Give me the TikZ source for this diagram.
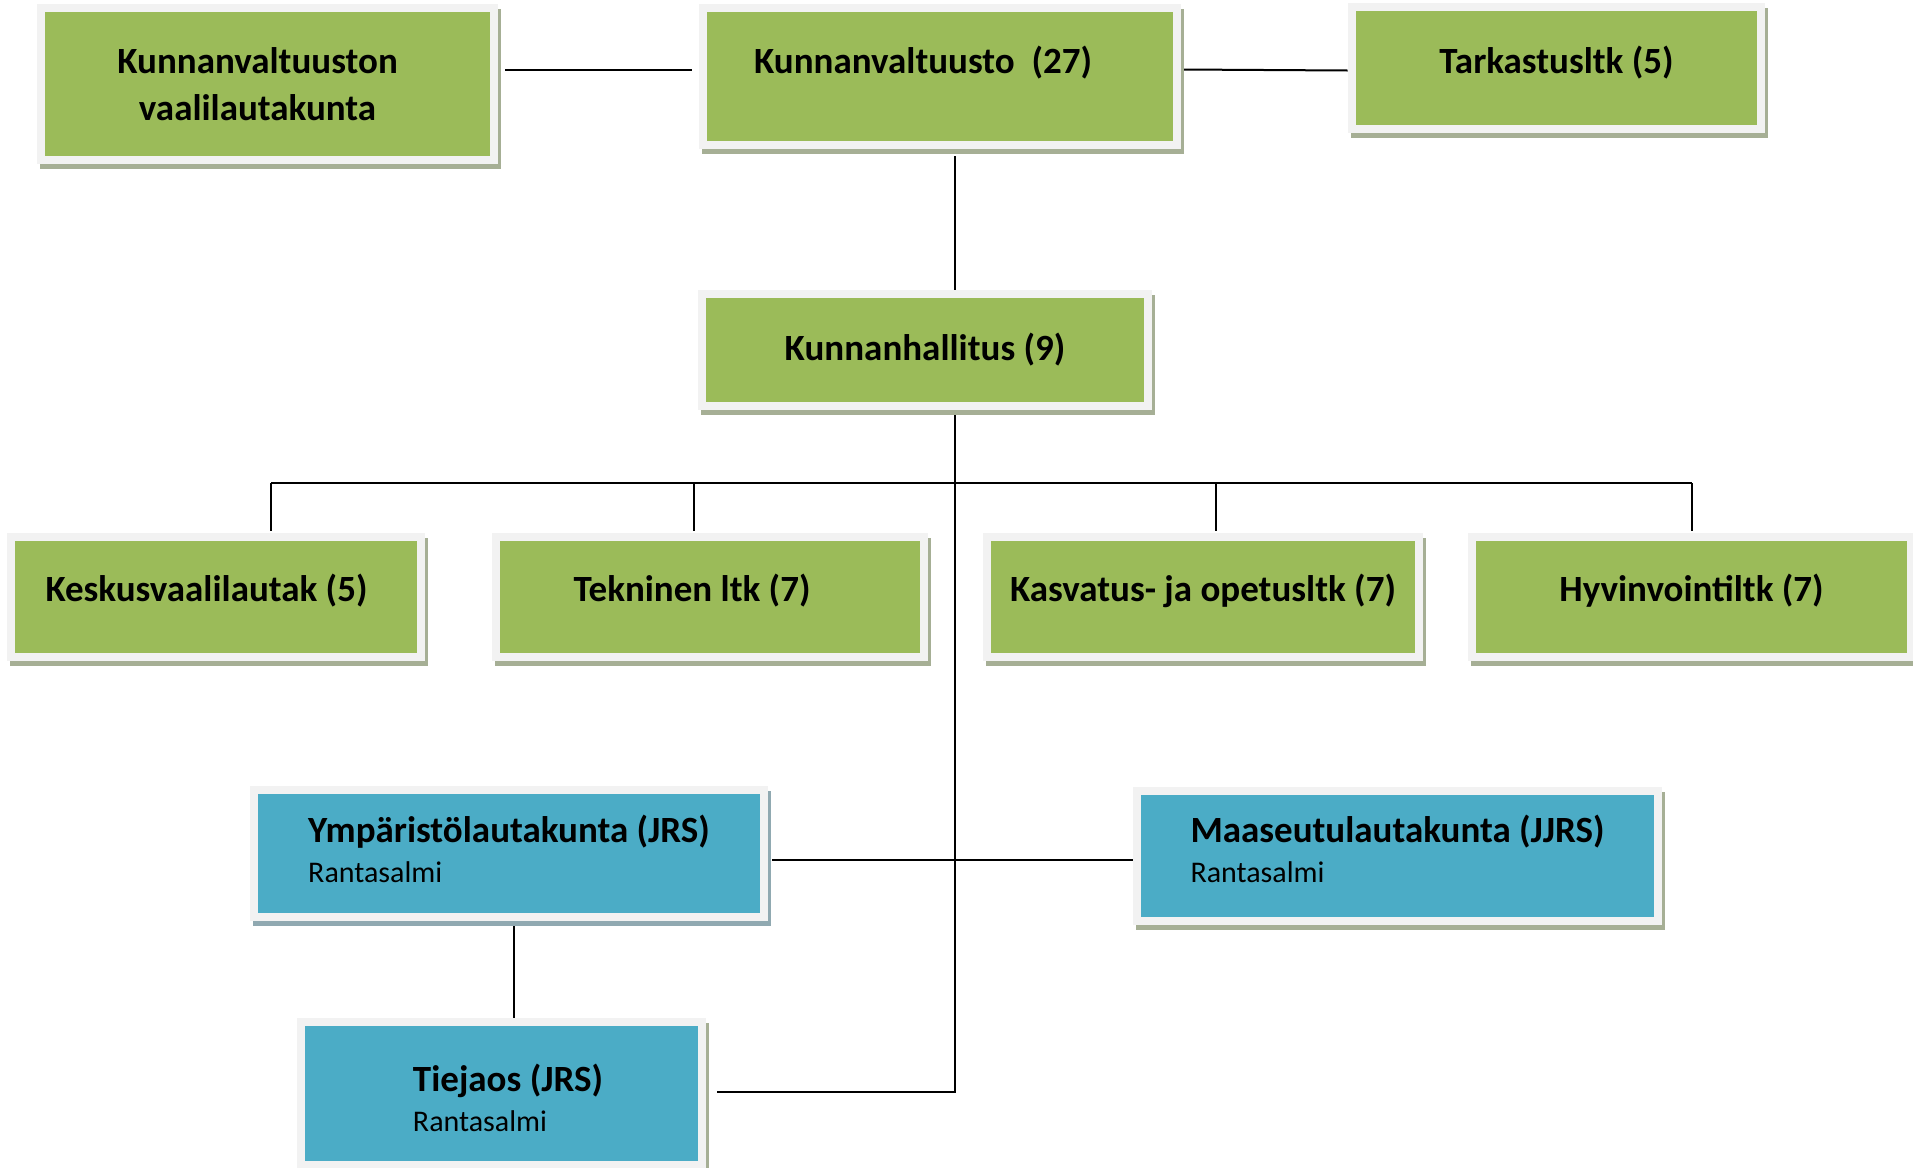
\documentclass[tikz,border=0pt]{standalone}
\usepackage{fontspec}
\setmainfont{Carlito}
\usepackage{tikz}
\usetikzlibrary{shadows, backgrounds}
\usepackage{xcolor}

\definecolor{boxgreen}{HTML}{9BBB59}
\definecolor{boxblue}{HTML}{4BACC6}
\definecolor{framegray}{HTML}{F2F2F2}
\definecolor{shadowgreen}{HTML}{A6AF95}
\definecolor{shadowblue}{HTML}{90A9B1}

% two-line text of a joint board: name in bold, seat below
\newcommand{\unittext}[3]{\raisebox{#1}[\height][\depth]{%
  \begin{tabular}{@{}l@{}}{\fontsize{18.5}{20}\selectfont\bfseries #2}\\#3\end{tabular}}}

\begin{document}
\begin{tikzpicture}[x=0.5pt,y=-0.5pt]
  \tikzset{
    orgbox/.style 2 args={rectangle, fill=framegray, inner sep=0pt,
      drop shadow={shadow xshift=1.5pt, shadow yshift=-2.5pt, fill=#2, opacity=1},
      path picture={\fill[#1] ([shift={(4pt,4pt)}]path picture bounding box.south west)
        rectangle ([shift={(-4pt,-4pt)}]path picture bounding box.north east);}},
    greenbox/.style={orgbox={boxgreen}{shadowgreen}, align=center,
      font=\fontsize{18.5}{23.2}\selectfont\bfseries},
    rowbox/.style={greenbox, minimum height=64pt, text height=14pt, text depth=9.3pt},
    bluebox/.style={orgbox={boxblue}{#1}, font=\fontsize{15}{20}\selectfont},
    bluebox/.default=shadowblue,
    conn/.style={draw=black, line width=1pt}
  }
  \useasboundingbox (0,0) rectangle (1913,1168);

  \node[greenbox, minimum width=230.5pt, minimum height=80pt]   (vaali)     at (267.5,84)    {Kunnanvaltuuston\hspace*{10pt}\\vaalilautakunta\hspace*{10pt}};
  \node[greenbox, minimum width=241pt, minimum height=72.5pt, text depth=17pt]
                                                                (valtuusto) at (940,76.5)    {Kunnanvaltuusto\ \ (27)\hspace*{17pt}};
  \node[greenbox, minimum width=208.5pt, minimum height=65pt, text height=14pt, text depth=8.8pt]
                                                                (tarkastus) at (1556.5,68)   {Tarkastusltk (5)};
  \node[greenbox, minimum width=227pt, minimum height=60pt]     (hallitus)  at (925,350)     {Kunnanhallitus (9)};
  \node[rowbox, minimum width=209pt]                            (keskus)    at (216,597)     {Keskusvaalilautak (5)\hspace*{9.5pt}};
  \node[rowbox, minimum width=218pt]                            (tekninen)  at (710,597)     {Tekninen ltk (7)\hspace*{18pt}};
  \node[rowbox, minimum width=220pt]                            (kasvatus)  at (1203,597)    {Kasvatus- ja opetusltk (7)};
  \node[rowbox, minimum width=223.5pt]                          (hyvin)     at (1691.5,597)  {Hyvinvointiltk (7)};
  \node[bluebox, minimum width=259pt, minimum height=67.5pt]    (ymp)       at (509,853.5)   {\unittext{-0.5pt}{Ympäristölautakunta (JRS)}{Rantasalmi}};
  \node[bluebox=shadowgreen, minimum width=264.5pt, minimum height=69pt]
                                                                (maaseutu)  at (1397.5,856)  {\unittext{1pt}{Maaseutulautakunta (JJRS)}{Rantasalmi}};
  \node[bluebox=shadowgreen, minimum width=204.5pt, minimum height=75.5pt]
                                                                (tiejaos)   at (501.5,1093.5){\hspace*{6.5pt}\unittext{-5pt}{Tiejaos (JRS)}{Rantasalmi}};

  \coordinate (bus)   at (955,483);
  \coordinate (tjend) at ([shift={(5.5pt,1pt)}]tiejaos.east);

  \begin{scope}[on background layer]
    \draw[conn] ([shift={(3.5pt,7.25pt)}]vaali.east) -- ([shift={(-3.5pt,3.5pt)}]valtuusto.west);
    \draw[conn] ([yshift=3.5pt]valtuusto.east) -- ([yshift=-1.25pt]tarkastus.west);
    \draw[conn, shorten <=3.5pt] (valtuusto.south -| bus) -- (hallitus.north -| bus);
    \draw[conn] (hallitus.south -| bus) -- (tjend -| bus) -- (tjend);
    \draw[conn] ([xshift=27.5pt]keskus.north |- bus) -- (hyvin.north |- bus);
    \foreach \n/\dx in {keskus/27.5pt, tekninen/-8pt, kasvatus/6.5pt, hyvin/0pt}
      \draw[conn] ([xshift=\dx]\n.north |- bus) -- ([shift={(\dx,1pt)}]\n.north);
    \draw[conn] ([shift={(2pt,-3.25pt)}]ymp.east) -- ([yshift=-2pt]maaseutu.west);
    \draw[conn] ([shift={(2.5pt,-1pt)}]ymp.south) -- ([xshift=2.5pt]ymp.south |- tiejaos.north);
  \end{scope}
\end{tikzpicture}
\end{document}
